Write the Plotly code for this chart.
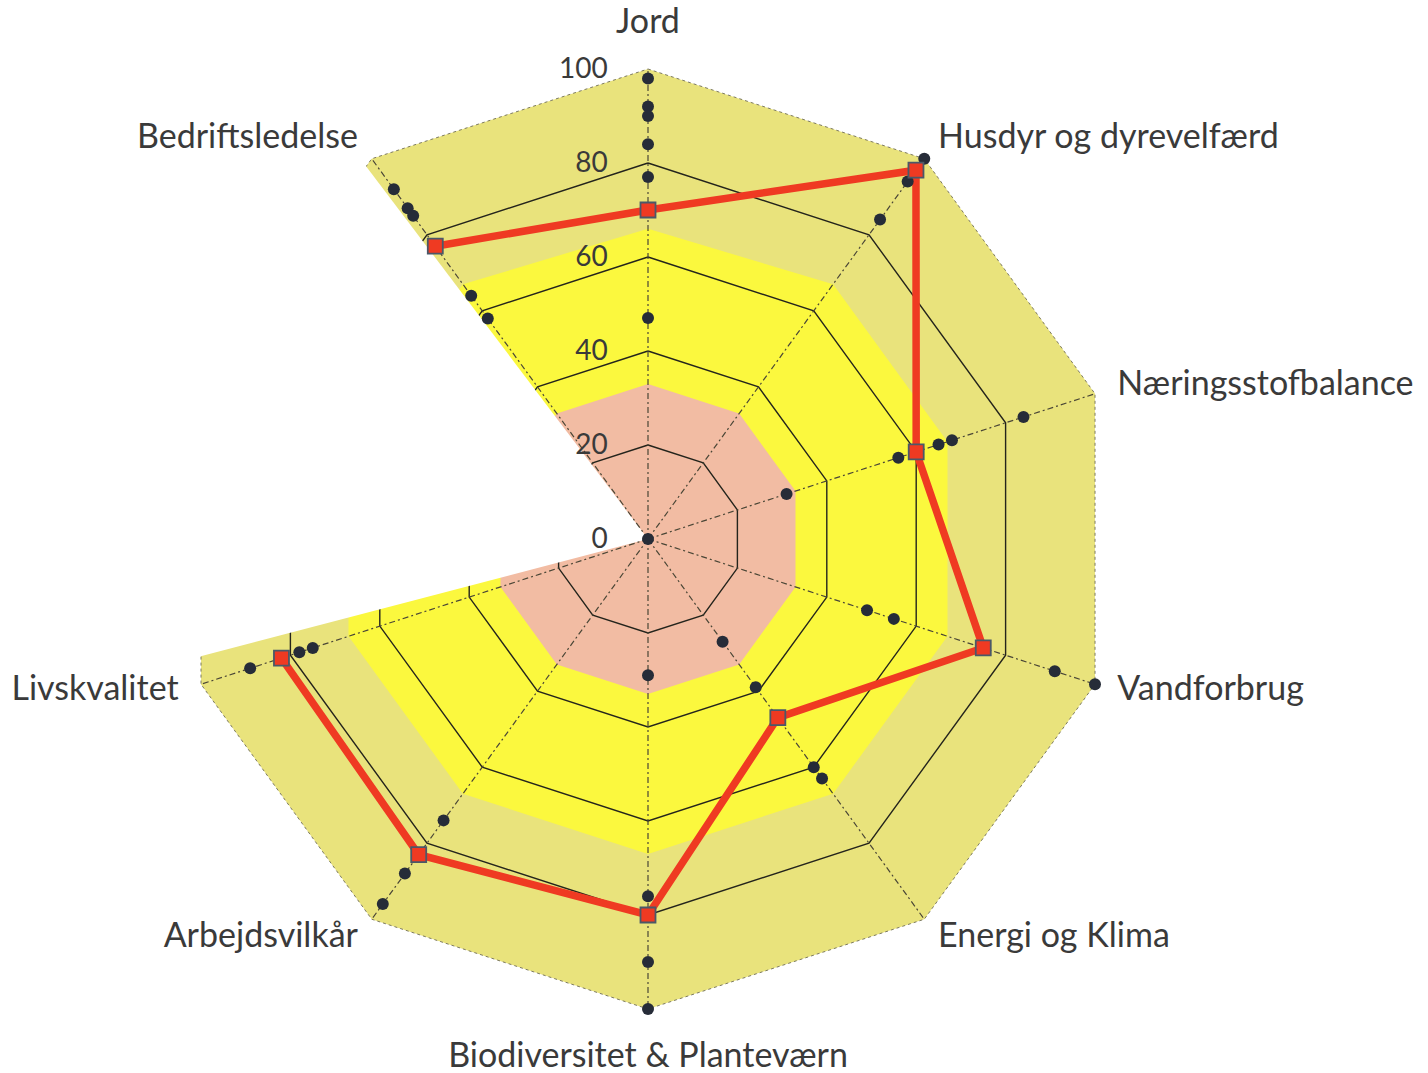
import plotly.graph_objects as go

# ---- categories (clockwise from the top); the ninth spoke carries no label ----
categories = ["Jord", "Husdyr og dyrevelfærd", "Næringsstofbalance", "Vandforbrug",
              "Energi og Klima", "Biodiversitet & Planteværn", "Arbejdsvilkår",
              "Livskvalitet", "", "Bedriftsledelse"]
angles = [i * 36 for i in range(len(categories))]
hidden_index = 8

# ---- score bands: upper limit of each zone per category ----
band_low = [33, 33, 33, 33, 33, 33, 33, 33, 33, 33]
band_mid = [66, 67, 67, 67, 67, 67, 67, 67, 67, 67]
band_high = [100, 100, 100, 100, 100, 100, 100, 100, 100, 100]
ring_values = [20, 40, 60, 80]
radial_ticks = [0, 20, 40, 60, 80, 100]

# ---- this farm's scores ----
farm_score = [70, 97, 60, 75, 47, 80, 83, 82, None, 77]

# ---- comparison farms, per category ----
dots_jord = [98, 92, 90, 84, 77, 47]
dots_husdyr = [100, 94, 84]
dots_naering = [84, 68, 65, 56, 31]
dots_vand = [100, 91, 55, 49]
dots_energi = [63, 60, 39, 27]
dots_biodiv = [100, 90, 76, 29]
dots_arbejd = [96, 88, 74]
dots_livs = [89, 78, 75]
dots_hidden = [0]
dots_bedrift = [92, 87, 85, 64, 58]
dots_by_category = [dots_jord, dots_husdyr, dots_naering, dots_vand, dots_energi,
                    dots_biodiv, dots_arbejd, dots_livs, dots_hidden, dots_bedrift]

# ---- styling ----
FONT = "Lato"
TEXT = "#3a3a3a"
KHAKI = "#E9E37C"
YELLOW = "#FBF83E"
PINK = "#F2BCA3"
RED = "#EF3A22"
DOT = "#262C38"

R_MAX = 112            # radial range leaves room for the category labels
CX, CY, R100 = 648, 534, 470   # centre (px from left / bottom) and radius of 100
R_PX = R100 * R_MAX / 100

label_radius = [105.8, 105, 105, 105, 105, 107, 105, 105, 0, 105]
label_position = ["top center", "middle right", "middle right", "middle right",
                  "middle right", "bottom center", "middle left", "middle left",
                  "middle center", "middle left"]


def closed(values):
    return list(values) + [values[0]], angles + [angles[0]]


fig = go.Figure()

# zone fills
for vals, col in [(band_high, KHAKI), (band_mid, YELLOW), (band_low, PINK)]:
    r, t = closed(vals)
    fig.add_trace(go.Scatterpolar(r=r, theta=t, mode="lines", fill="toself",
                                  fillcolor=col, line=dict(width=0, color=col),
                                  hoverinfo="skip", showlegend=False))

# grid rings
ring_r, ring_t = [], []
for v in ring_values:
    r, t = closed([v] * len(angles))
    ring_r += r + [None]
    ring_t += t + [None]
fig.add_trace(go.Scatterpolar(r=ring_r, theta=ring_t, mode="lines",
                              line=dict(color="#24241c", width=1.4),
                              hoverinfo="skip", showlegend=False))
r, t = closed([radial_ticks[-1]] * len(angles))
fig.add_trace(go.Scatterpolar(r=r, theta=t, mode="lines",
                              line=dict(color="#7d7a60", width=1, dash="dot"),
                              hoverinfo="skip", showlegend=False))

# blank out the unlabelled sector
mask_theta = [0, 255.3, 288, 322.9, 0]
mask_r = [0, R_MAX, R_MAX, R_MAX, 0]
fig.add_trace(go.Scatterpolar(r=mask_r, theta=mask_theta, mode="lines", fill="toself",
                              fillcolor="white", line=dict(width=0, color="white"),
                              hoverinfo="skip", showlegend=False))

# spokes
sp_r, sp_t = [], []
for i, a in enumerate(angles):
    if i == hidden_index:
        continue
    sp_r += [0, radial_ticks[-1], None]
    sp_t += [a, a, None]
fig.add_trace(go.Scatterpolar(r=sp_r, theta=sp_t, mode="lines",
                              line=dict(color="#4a4636", width=1.2, dash="6px,3px,2px,3px"),
                              hoverinfo="skip", showlegend=False))

# farm score line
r, t = closed(farm_score)
fig.add_trace(go.Scatterpolar(r=r, theta=t, mode="lines", connectgaps=False,
                              line=dict(color=RED, width=7.5), cliponaxis=False,
                              hoverinfo="skip", showlegend=False))

# comparison farms
dot_r, dot_t = [], []
for a, vals in zip(angles, dots_by_category):
    dot_r += vals
    dot_t += [a] * len(vals)
fig.add_trace(go.Scatterpolar(r=dot_r, theta=dot_t, mode="markers", cliponaxis=False,
                              marker=dict(color=DOT, size=12, line=dict(width=0)),
                              showlegend=False))

# farm score markers
mk_r = [v for v in farm_score if v is not None]
mk_t = [a for a, v in zip(angles, farm_score) if v is not None]
fig.add_trace(go.Scatterpolar(r=mk_r, theta=mk_t, mode="markers", cliponaxis=False,
                              marker=dict(symbol="square", size=15, color=RED,
                                          line=dict(color="#4b5868", width=1.8)),
                              showlegend=False))

# category labels
fig.add_trace(go.Scatterpolar(r=label_radius, theta=angles, mode="text",
                              text=categories, textposition=label_position,
                              cliponaxis=False,
                              textfont=dict(family=FONT, size=34, color=TEXT),
                              hoverinfo="skip", showlegend=False))

fig.update_layout(
    width=1428, height=1073,
    margin=dict(l=0, r=0, t=0, b=0),
    paper_bgcolor="white",
    font=dict(family=FONT, color=TEXT),
    polar=dict(
        domain=dict(x=[(CX - R_PX) / 1428, (CX + R_PX) / 1428],
                    y=[(CY - R_PX) / 1073, (CY + R_PX) / 1073]),
        bgcolor="rgba(0,0,0,0)",
        angularaxis=dict(rotation=90, direction="clockwise", showticklabels=False,
                         showgrid=False, showline=False, ticks=""),
        radialaxis=dict(range=[0, R_MAX], angle=90, tickangle=90, side="counterclockwise",
                        tickvals=radial_ticks, showgrid=False, showline=False,
                        ticks="outside", ticklen=30, tickcolor="rgba(0,0,0,0)",
                        layer="above traces",
                        tickfont=dict(family=FONT, size=28, color=TEXT)),
    ),
)

fig.write_html("out.html")
